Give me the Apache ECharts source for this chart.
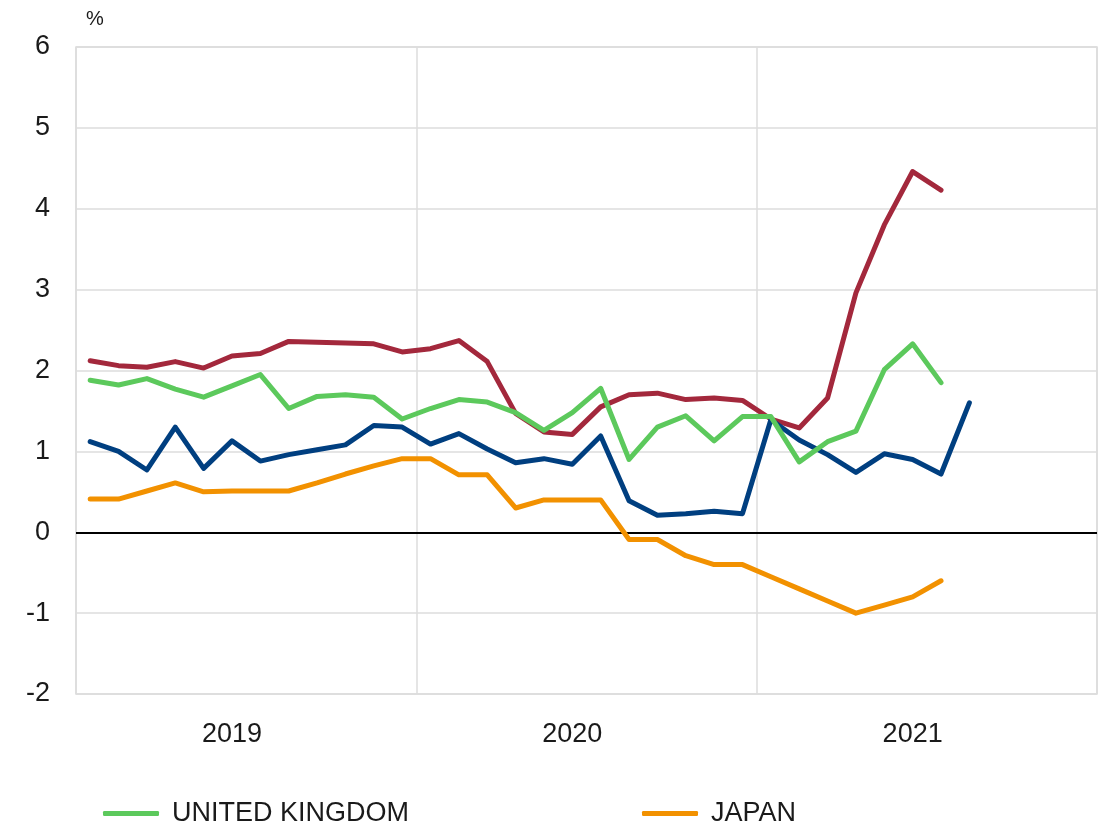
<!DOCTYPE html>
<html>
<head>
<meta charset="utf-8">
<title>Inflation</title>
<script src="https://cdn.jsdelivr.net/npm/echarts@6/dist/echarts.min.js"></script>
<style>
    html, body { margin: 0; padding: 0; background: #fff; }
    #chart { width: 1107px; height: 827px; }
</style>
</head>
<body>
<div id="chart"></div>
<script>
// months Jan 2019 .. Dec 2021
const months = [];
for (let y = 2019; y <= 2021; y++) {
    for (let m = 1; m <= 12; m++) {
        months.push(y + '-' + (m < 10 ? '0' + m : m));
    }
}

// red line
const unitedStates = [2.12, 2.06, 2.04, 2.11, 2.03, 2.18, 2.21, 2.36, 2.35, 2.34, 2.33, 2.23,
    2.27, 2.37, 2.11, 1.47, 1.24, 1.21, 1.55, 1.70, 1.72, 1.64, 1.66, 1.63,
    1.40, 1.29, 1.66, 2.96, 3.80, 4.46, 4.23];
// dark blue line
const euroArea = [1.12, 1.00, 0.77, 1.30, 0.79, 1.13, 0.88, 0.96, 1.02, 1.08, 1.32, 1.30,
    1.09, 1.22, 1.03, 0.86, 0.91, 0.84, 1.19, 0.39, 0.21, 0.23, 0.26, 0.23,
    1.39, 1.14, 0.96, 0.74, 0.97, 0.90, 0.72, 1.60];
const unitedKingdom = [1.88, 1.82, 1.90, 1.77, 1.67, 1.81, 1.95, 1.53, 1.68, 1.70, 1.67, 1.40,
    1.53, 1.64, 1.61, 1.48, 1.26, 1.48, 1.78, 0.90, 1.30, 1.44, 1.13, 1.43,
    1.43, 0.87, 1.12, 1.25, 2.01, 2.33, 1.85];
const japan = [0.41, 0.41, 0.51, 0.61, 0.50, 0.51, 0.51, 0.51, 0.61, 0.72, 0.82, 0.91,
    0.91, 0.71, 0.71, 0.30, 0.40, 0.40, 0.40, -0.09, -0.09, -0.29, -0.40, -0.40,
    -0.55, -0.70, -0.85, -1.00, -0.90, -0.80, -0.60];

const yearLabels = ['2019', '2020', '2021'];

const font = "'Liberation Sans', Arial, Helvetica, sans-serif";
const chart = echarts.init(document.getElementById('chart'));

const lineSeries = (name, data, color, z) => ({
    name: name,
    type: 'line',
    data: data,
    symbol: 'none',
    z: z,
    lineStyle: { color: color, width: 5, cap: 'round', join: 'round' },
    itemStyle: { color: color },
    emphasis: { disabled: true }
});

chart.setOption({
    animation: false,
    backgroundColor: '#fff',
    grid: {
        left: 76,
        right: 10,
        top: 47,
        bottom: 133,
        show: true,
        borderColor: '#dcdcdc',
        borderWidth: 1.5
    },
    legend: {
        data: ['UNITED KINGDOM', 'JAPAN'],
        left: 98,
        top: 795,
        icon: 'roundRect',
        itemWidth: 56,
        itemHeight: 5,
        itemGap: 233,
        textStyle: {
            fontFamily: font,
            fontSize: 27,
            color: '#1a1a1a',
            padding: [0, 0, 0, 8]
        }
    },
    xAxis: {
        type: 'category',
        data: months,
        boundaryGap: true,
        axisLine: { show: false },
        axisTick: { show: false },
        axisLabel: {
            interval: (i) => i % 12 === 5,
            formatter: (v) => yearLabels[Math.floor(months.indexOf(v) / 12)],
            margin: 27,
            fontFamily: font,
            fontSize: 27,
            color: '#1a1a1a'
        },
        splitLine: {
            show: true,
            interval: (i) => i % 12 === 0,
            lineStyle: { color: '#dcdcdc', width: 1.5 }
        }
    },
    yAxis: {
        type: 'value',
        min: -2,
        max: 6,
        interval: 1,
        name: '%',
        nameLocation: 'end',
        nameGap: 18,
        nameTextStyle: {
            fontFamily: font,
            fontSize: 20,
            color: '#1a1a1a',
            align: 'left',
            padding: [0, 0, 0, 10]
        },
        axisLine: { show: false },
        axisTick: { show: false },
        axisLabel: {
            margin: 26,
            fontFamily: font,
            fontSize: 27,
            color: '#1a1a1a'
        },
        splitLine: { lineStyle: { color: '#dcdcdc', width: 1.5 } }
    },
    series: [
        Object.assign(lineSeries('UNITED STATES', unitedStates, '#a3283c', 3), {
            markLine: {
                silent: true,
                symbol: 'none',
                label: { show: false },
                lineStyle: { color: '#000', width: 2, type: 'solid' },
                data: [{ yAxis: 0 }]
            }
        }),
        lineSeries('EURO AREA', euroArea, '#003f80', 4),
        lineSeries('UNITED KINGDOM', unitedKingdom, '#5cc95c', 5),
        lineSeries('JAPAN', japan, '#f29100', 6)
    ]
});
</script>
</body>
</html>
